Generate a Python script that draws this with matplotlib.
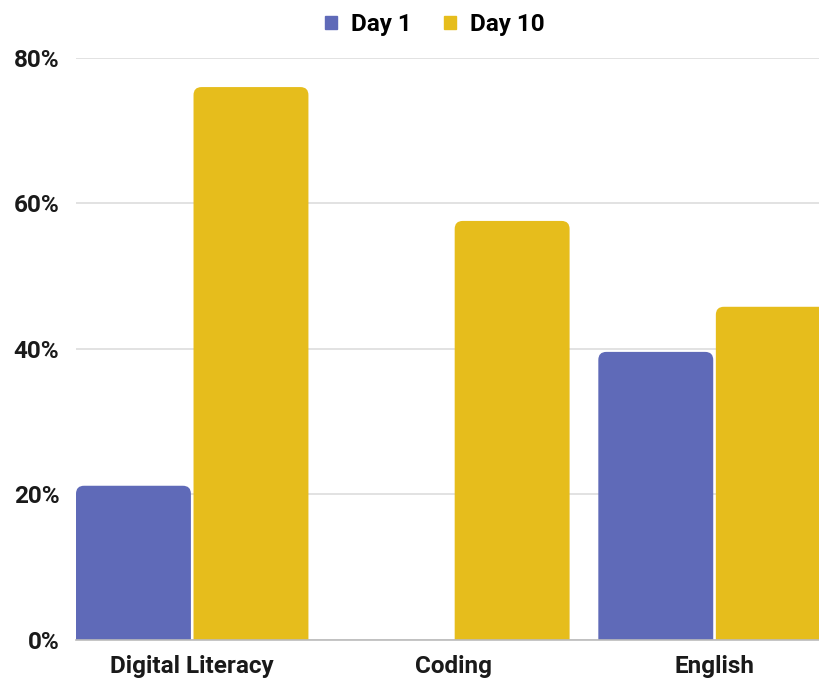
import numpy as np
import matplotlib
matplotlib.use("Agg")
import matplotlib.pyplot as plt
from matplotlib.patches import FancyBboxPatch

plt.rcParams['font.family'] = ['Roboto', 'DejaVu Sans']
plt.rcParams['font.weight'] = 'bold'

# scores per subject
subjects = ['Digital Literacy', 'Coding', 'English']
day1 = [21.2, 0.0, 39.6]
day10 = [76.0, 57.6, 45.8]
series_names = ['Day 1', 'Day 10']
colors = ['#5F6AB8', '#E6BD1C']

fig = plt.figure(figsize=(8.19, 6.82), dpi=100)
ax = fig.add_axes([0.0928, 0.0616, 0.9072, 0.8534])

x = np.arange(len(subjects))
width = 0.44
offset = 0.225

bars1 = ax.bar(x - offset, day1, width, color=colors[0], label=series_names[0])
bars2 = ax.bar(x + offset, day10, width, color=colors[1], label=series_names[1])

# swap plain rectangles for ones with rounded tops
px_x = 1 / 261.0
px_y = 80 / 582.0
r = 8 * px_x
for bars in (bars1, bars2):
    for b in bars:
        h = b.get_height()
        b.set_visible(False)
        if h <= 0:
            continue
        patch = FancyBboxPatch((b.get_x() + r, -5 + r * px_y / px_x),
                               b.get_width() - 2 * r, h + 5 - 2 * r * px_y / px_x,
                               boxstyle=f"round,pad={r},rounding_size={r}",
                               mutation_aspect=px_y / px_x,
                               facecolor=b.get_facecolor(), edgecolor='none',
                               zorder=2, clip_on=True)
        ax.add_patch(patch)

ax.set_xlim(-0.445, 2.40)
ax.set_ylim(0, 80)
ax.set_yticks([0, 20, 40, 60, 80])
ax.set_yticklabels(['0%', '20%', '40%', '60%', '80%'])
ax.set_xticks(x)
ax.set_xticklabels(subjects)
ax.tick_params(axis='both', length=0, labelsize=17.5, colors='#1a1a1a')
ax.tick_params(axis='y', pad=12)
ax.tick_params(axis='x', pad=11)
ax.grid(axis='y', color='#DDDDDD', linewidth=1.2, zorder=0)
ax.set_axisbelow(True)
for s in ['top', 'right', 'left']:
    ax.spines[s].set_visible(False)
ax.spines['bottom'].set_color('#BBBBBB')
ax.spines['bottom'].set_linewidth(1.2)
ax.spines['bottom'].set_zorder(3)

ax.legend(handles=[plt.Rectangle((0, 0), 1, 1, color=c) for c in colors],
          labels=series_names, loc='lower center', bbox_to_anchor=(0.483, 1.0),
          ncol=2, frameon=False, fontsize=17.5, handlelength=0.5, handleheight=0.5,
          columnspacing=1.35, handletextpad=0.55)

fig.savefig('out.png', dpi=100, facecolor='white')
